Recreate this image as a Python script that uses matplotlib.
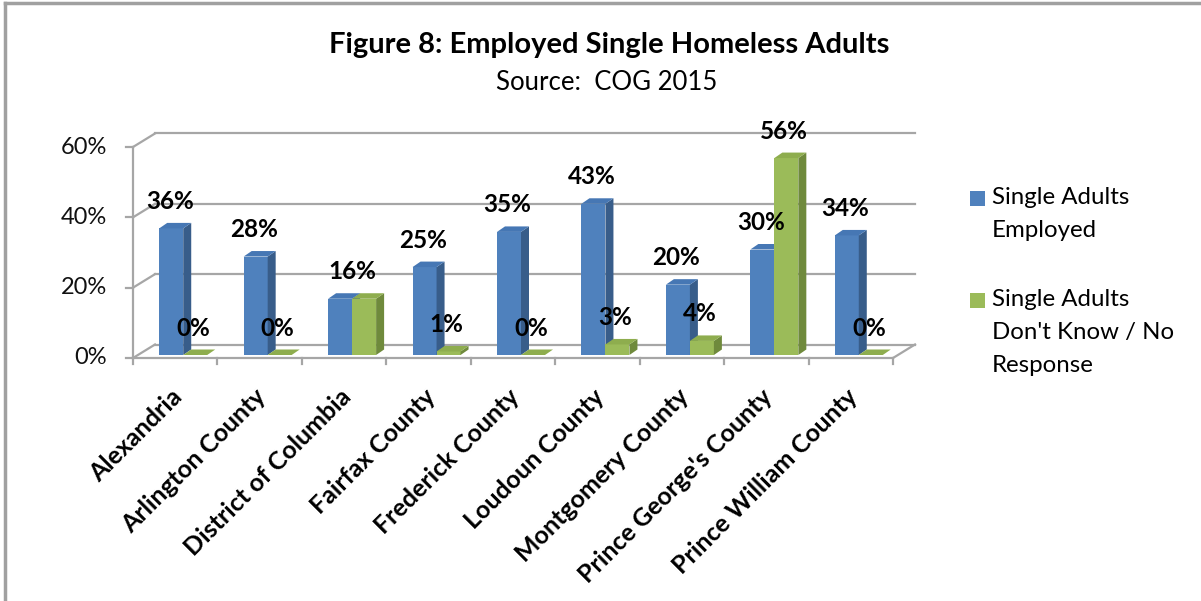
import matplotlib.pyplot as plt
from matplotlib.patches import Polygon, Rectangle
from matplotlib.lines import Line2D

plt.rcParams['font.family'] = ['Lato', 'DejaVu Sans']

categories = ['Alexandria', 'Arlington County', 'District of Columbia', 'Fairfax County',
              'Frederick County', 'Loudoun County', 'Montgomery County',
              "Prince George's County", 'Prince William County']
employed = [36, 28, 16, 25, 35, 43, 20, 30, 34]
dont_know = [0, 0, 16, 1, 0, 3, 4, 56, 0]
series_names = ['Single Adults\nEmployed', "Single Adults\nDon't Know / No\nResponse"]
y_ticks = [0, 20, 40, 60]

blue = ('#4F81BD', '#385D8A', '#4677B4')   # front, side, top
green = ('#9BBB59', '#6F8A3C', '#8EAD4E')
grid_col = '#A6A6A6'

W, H = 1201, 601
fig = plt.figure(figsize=(W / 100, H / 100), dpi=100)
ax = fig.add_axes([133 / W, (H - 358) / H, 760 / W, 211 / H])
ax.set_xlim(0, 9)
ax.set_ylim(0, 60)
ax.axis('off')

px_x = 760 / 9      # pixels per category
px_y = 211 / 60     # pixels per percent

# depth of the floor / walls
ddx, ddy = 22 / px_x, 13.5 / px_y

# side wall + back wall gridlines
for t in y_ticks:
    ax.plot([0, ddx], [t, t + ddy], color=grid_col, lw=1.6, clip_on=False)
    ax.plot([ddx, 9 + ddx], [t + ddy, t + ddy], color=grid_col, lw=1.6, clip_on=False)
ax.plot([9, 9 + ddx], [0, ddy], color=grid_col, lw=1.6, clip_on=False)

# front axes
ax.plot([0, 9], [0, 0], color=grid_col, lw=1.6, clip_on=False)
ax.plot([0, 0], [0, 60], color=grid_col, lw=1.6, clip_on=False)
for i in range(10):
    ax.plot([i, i], [0, -6 / px_y], color=grid_col, lw=1.6, clip_on=False)
for t in y_ticks:
    ax.plot([0, -7 / px_x], [t, t], color=grid_col, lw=1.6, clip_on=False)
    ax.text(-26 / px_x, t, f'{t}%', ha='right', va='center', fontsize=17, color='#111111')

# bars
shift_x, shift_y = 8 / px_x, 3 / px_y
bw = 24 / px_x
sdx, sdy = 8 / px_x, 5.5 / px_y

def draw_bar(x0, v, cols):
    y0 = shift_y
    y1 = v + shift_y
    ax.bar(x0, v, width=bw, bottom=y0, align='edge', color=cols[0], lw=0, clip_on=False, zorder=3)
    ax.add_patch(Polygon([(x0 + bw, y0), (x0 + bw + sdx, y0 + sdy), (x0 + bw + sdx, y1 + sdy),
                          (x0 + bw, y1)], closed=True, fc=cols[1], lw=0, zorder=3, clip_on=False))
    ax.add_patch(Polygon([(x0, y1), (x0 + bw, y1), (x0 + bw + sdx, y1 + sdy), (x0 + sdx, y1 + sdy)],
                         closed=True, fc=cols[2], lw=0, zorder=3, clip_on=False))

def bar_label(x, v):
    ax.annotate(f'{v}%', (x, v + shift_y), xytext=(0, 27 * 0.72), textcoords='offset points',
                ha='center', va='center', fontsize=17.5, fontweight='bold', zorder=5)

for i in range(len(categories)):
    mid = i + 0.5 + shift_x
    draw_bar(mid - bw, employed[i], blue)
    draw_bar(mid, dont_know[i], green)
    if employed[i] == dont_know[i]:
        # equal values share one label
        bar_label(mid, employed[i])
    else:
        bar_label(mid - bw / 2 - 1.5 / px_x, employed[i])
        bar_label(mid + bw / 2 - 2 / px_x, dont_know[i])
    ax.annotate(categories[i], (i + 0.5, 0), xytext=(2, -25), textcoords='offset points',
                rotation=45, rotation_mode='anchor', ha='right', va='center',
                fontsize=18, fontweight='bold')

# titles
fig.text(609 / W, 1 - 45 / H, 'Figure 8: Employed Single Homeless Adults', ha='center', va='center',
         fontsize=21, fontweight='bold')
fig.text(607 / W, 1 - 83 / H, 'Source:  COG 2015', ha='center', va='center', fontsize=18.5)

# legend
for name, cols, ytop in zip(series_names, [blue, green], [191, 293]):
    fig.patches.append(Rectangle((970 / W, 1 - (ytop + 15) / H), 15 / W, 15 / H,
                                 transform=fig.transFigure, fc=cols[0], lw=0))
    fig.text(992 / W, 1 - (ytop - 4) / H, name, ha='left', va='top', fontsize=17.3, linespacing=1.72)

# chart border
fig.add_artist(Line2D([5 / W, 5 / W], [0, 1 - 3 / H], color='#A0A0A0', lw=2.5))
fig.add_artist(Line2D([5 / W, 1], [1 - 3 / H, 1 - 3 / H], color='#A0A0A0', lw=2.5))

fig.savefig('out.png', dpi=100)
